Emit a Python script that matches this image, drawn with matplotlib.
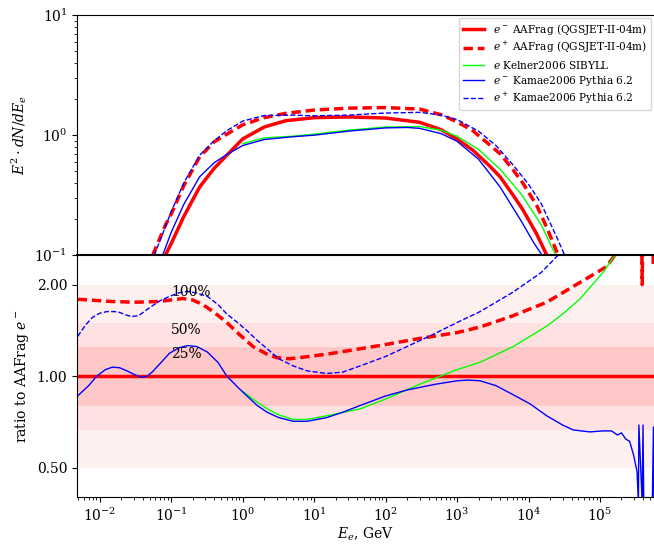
import numpy as np
import matplotlib
matplotlib.use("Agg")
import matplotlib.pyplot as plt
from matplotlib.ticker import NullLocator, FormatStrFormatter, FixedLocator, LogLocator

plt.rcParams['font.family'] = 'DejaVu Serif'
plt.rcParams['mathtext.fontset'] = 'dejavuserif'
plt.rcParams['font.size'] = 10

# --- top panel: E^2 dN/dE ---
E_em_aa = [0.083, 0.1, 0.15, 0.25, 0.4, 0.6, 1, 2, 4, 10, 30, 100, 300, 600, 1000, 1660, 2800, 4000, 6000, 8300, 1.3e4, 1.8e4]
y_em_aa = [0.1, 0.125, 0.21, 0.37, 0.53, 0.68, 0.93, 1.17, 1.32, 1.40, 1.42, 1.39, 1.28, 1.11, 0.93, 0.75, 0.56, 0.45, 0.32, 0.24, 0.15, 0.1]

E_ep_aa = [0.055, 0.083, 0.1, 0.15, 0.25, 0.4, 0.6, 1, 2, 4, 10, 30, 100, 300, 600, 1000, 1660, 2800, 4000, 6000, 8300, 1.3e4, 1.8e4, 2.6e4]
y_ep_aa = [0.1, 0.178, 0.22, 0.38, 0.66, 0.88, 1.02, 1.22, 1.40, 1.52, 1.62, 1.68, 1.70, 1.65, 1.48, 1.29, 1.09, 0.84, 0.70, 0.52, 0.40, 0.26, 0.17, 0.1]

E_e_kel = [1, 2, 5, 10, 30, 100, 300, 600, 1000, 2000, 4000, 8000, 1.5e4, 2.4e4]
y_e_kel = [0.85, 0.95, 0.98, 1.02, 1.10, 1.17, 1.18, 1.10, 0.98, 0.76, 0.52, 0.32, 0.18, 0.1]

E_em_ka = [0.076, 0.1, 0.15, 0.25, 0.4, 0.6, 1, 2, 5, 10, 30, 100, 200, 300, 600, 1000, 2000, 4000, 8000, 1.2e4, 1.55e4]
y_em_ka = [0.1, 0.155, 0.265, 0.45, 0.59, 0.69, 0.82, 0.92, 0.97, 1.0, 1.08, 1.15, 1.16, 1.14, 1.03, 0.89, 0.63, 0.37, 0.19, 0.125, 0.1]

E_ep_ka = [0.058, 0.1, 0.15, 0.25, 0.4, 0.6, 1, 2, 5, 10, 30, 100, 300, 600, 1000, 2000, 3500, 6000, 1e4, 1.5e4, 2.5e4, 3.2e4]
y_ep_ka = [0.1, 0.23, 0.40, 0.68, 0.90, 1.09, 1.31, 1.46, 1.47, 1.45, 1.47, 1.53, 1.55, 1.47, 1.35, 1.08, 0.82, 0.57, 0.39, 0.27, 0.14, 0.1]

# --- bottom panel: ratio to AAFrag e- ---
rE_ep_aa = [4.9e-3, 0.01, 0.014, 0.033, 0.069, 0.1, 0.145, 0.2, 0.275, 0.4, 0.6, 0.9, 1.4, 2.2, 3.0, 4.5, 6.3, 15, 44, 100, 300,
            1000, 2100, 6100, 1.8e4, 5.2e4, 1.23e5, 1.62e5, 2.5e5, 3.8e5, 3.9e5, 4.0e5, 5.5e5, 5.6e5, 5.75e5]
r_ep_aa = [1.79, 1.77, 1.76, 1.75, 1.76, 1.78, 1.80, 1.78, 1.72, 1.62, 1.50, 1.37, 1.25, 1.18, 1.15, 1.14, 1.15, 1.18, 1.23, 1.27, 1.33,
           1.39, 1.45, 1.58, 1.75, 2.03, 2.29, 2.5, 3.5, 3.5, 2.0, 3.5, 3.5, 2.3, 3.5]

rE_e_kel = [1.0, 1.5, 2.2, 3.2, 5.1, 8, 15, 44, 100, 300, 1000, 2100, 6100, 1.8e4, 3e4, 5.2e4, 1.1e5, 1.62e5]
r_e_kel = [0.89, 0.83, 0.78, 0.745, 0.72, 0.72, 0.74, 0.78, 0.84, 0.94, 1.05, 1.11, 1.25, 1.46, 1.6, 1.79, 2.19, 2.5]

rE_em_ka = [4.9e-3, 7e-3, 9.1e-3, 0.012, 0.015, 0.019, 0.024, 0.031, 0.039, 0.046, 0.054, 0.07, 0.095, 0.13, 0.17, 0.23,
            0.32, 0.45, 0.6, 0.85, 1.15, 1.6, 2.2, 3.2, 5.1, 8, 15, 25, 44, 100, 200, 500, 1000, 1400, 2100, 3500, 6000,
            1.05e4, 1.8e4, 3e4, 4.2e4, 7.2e4, 1.1e5, 1.45e5, 1.75e5, 2.0e5, 2.3e5, 2.6e5, 2.95e5, 3.3e5, 3.45e5, 3.5e5,
            3.9e5, 4.0e5, 4.1e5, 5.4e5, 5.6e5, 5.7e5]
r_em_ka = [0.86, 0.93, 1.0, 1.05, 1.07, 1.065, 1.04, 1.01, 0.99, 1.0, 1.03, 1.1, 1.19, 1.24, 1.26, 1.25,
           1.2, 1.11, 1.0, 0.92, 0.86, 0.8, 0.76, 0.73, 0.71, 0.71, 0.73, 0.76, 0.80, 0.86, 0.90, 0.94, 0.965, 0.97, 0.965, 0.93, 0.87,
           0.81, 0.74, 0.69, 0.665, 0.655, 0.66, 0.66, 0.64, 0.65, 0.62, 0.61, 0.55, 0.485, 0.38, 0.69,
           0.38, 0.69, 0.38, 0.38, 0.68, 0.38]

rE_ep_ka = [4.9e-3, 6.3e-3, 7.9e-3, 0.01, 0.0126, 0.016, 0.019, 0.023, 0.028, 0.035, 0.05, 0.07, 0.095, 0.13, 0.166,
            0.22, 0.32, 0.45, 0.6, 0.85, 1.15, 1.6, 2.2, 3.2, 5.1, 8, 15, 25, 44, 100, 430, 1000, 2100, 6100, 1.5e4, 2.6e4]
r_ep_ka = [1.35, 1.47, 1.56, 1.61, 1.63, 1.63, 1.62, 1.59, 1.57, 1.58, 1.68, 1.77, 1.83, 1.88, 1.90,
           1.88, 1.83, 1.72, 1.60, 1.50, 1.41, 1.31, 1.23, 1.14, 1.08, 1.04, 1.02, 1.03, 1.08, 1.16, 1.36, 1.5, 1.63, 1.89, 2.19, 2.5]

x_decades = [1e-2, 1e-1, 1e0, 1e1, 1e2, 1e3, 1e4, 1e5]

bands = [2.0, 1.5, 1.25]
band_labels = ["100%", "50%", "25%"]
band_alpha = [0.06, 0.06, 0.11]

red_dash = (0, (2.7, 1.4))

fig = plt.figure(figsize=(6.54, 5.44), dpi=100)
ax1 = fig.add_axes([0.1177, 0.531, 0.8823, 0.441])
ax2 = fig.add_axes([0.1177, 0.0864, 0.8823, 0.4446], sharex=ax1)

ax1.plot(E_em_aa, y_em_aa, color='red', lw=2.5, label='$e^-$ AAFrag (QGSJET-II-04m)')
ax1.plot(E_ep_aa, y_ep_aa, color='red', lw=2.5, ls=red_dash, label='$e^+$ AAFrag (QGSJET-II-04m)')
ax1.plot(E_e_kel, y_e_kel, color='lime', lw=1.0, label='$e$ Kelner2006 SIBYLL')
ax1.plot(E_em_ka, y_em_ka, color='blue', lw=1.0, label='$e^-$ Kamae2006 Pythia 6.2')
ax1.plot(E_ep_ka, y_ep_ka, color='blue', lw=1.0, ls='--', label='$e^+$ Kamae2006 Pythia 6.2')
ax1.set_xscale('log')
ax1.set_yscale('log')
ax1.set_ylim(0.1, 10)
ax1.set_xlim(4.8e-3, 5.7e5)
ax1.set_ylabel(r'$E^2 \cdot dN/dE_e$')
ax1.tick_params(axis='x', which='both', bottom=False, labelbottom=False)
ax1.spines['right'].set_visible(False)
ax1.legend(loc='upper right', fontsize=7.6, labelspacing=0.3, borderaxespad=0.25, framealpha=0.8)

for f, lab, a in zip(bands, band_labels, band_alpha):
    ax2.axhspan(1 / f, f, color='red', alpha=a, lw=0)
    ax2.text(0.1, f, lab, va='top', ha='left', fontsize=10)
ax2.axhline(1.0, color='red', lw=2.5)
ax2.plot(rE_ep_aa, r_ep_aa, color='red', lw=2.5, ls=red_dash)
ax2.plot(rE_e_kel, r_e_kel, color='lime', lw=1.0)
ax2.plot(rE_em_ka, r_em_ka, color='blue', lw=1.0)
ax2.plot(rE_ep_ka, r_ep_ka, color='blue', lw=1.0, ls='--')
ax2.set_yscale('log')
ax2.set_ylim(0.4, 2.5)
ax2.set_yticks([0.5, 1.0, 2.0])
ax2.yaxis.set_major_formatter(FormatStrFormatter('%.2f'))
ax2.yaxis.set_minor_locator(NullLocator())
ax2.xaxis.set_major_locator(FixedLocator(x_decades))
ax2.xaxis.set_minor_locator(LogLocator(base=10, subs=np.arange(2, 10)))
ax2.set_xlim(4.8e-3, 5.7e5)
ax2.set_ylabel('ratio to AAFrag $e^-$')
ax2.set_xlabel('$E_e$, GeV', labelpad=1)
ax2.spines['right'].set_visible(False)
ax2.spines['top'].set_linewidth(1.5)

fig.savefig('out.png', dpi=100)
